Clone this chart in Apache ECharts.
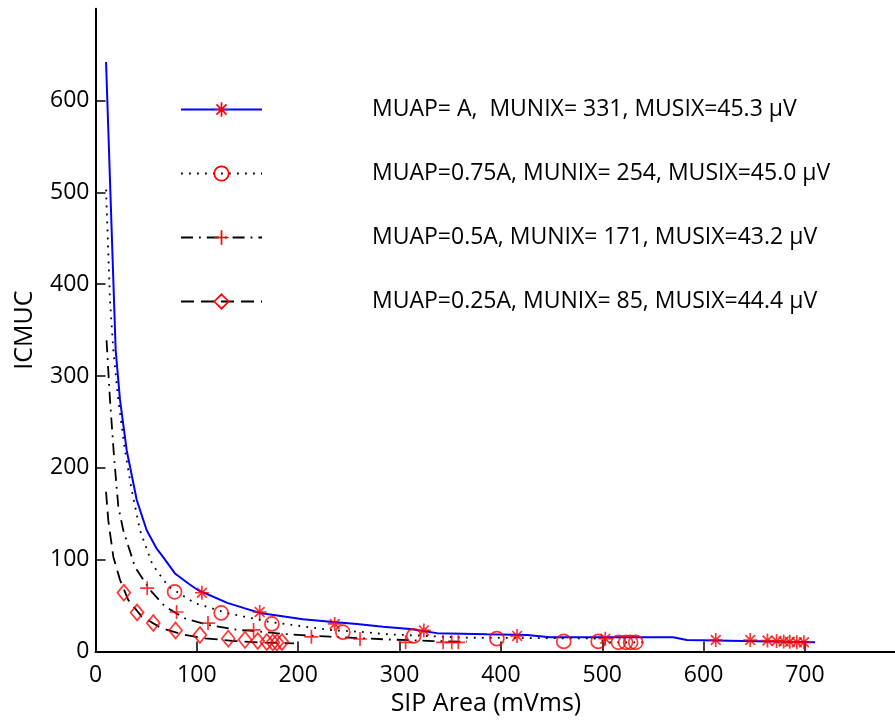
<!DOCTYPE html>
<html>
<head>
<meta charset="utf-8">
<title>ICMUC vs SIP Area</title>
<script src="https://cdn.jsdelivr.net/npm/echarts@6/dist/echarts.min.js"></script>
<style>
  html, body { margin: 0; padding: 0; background: #fff; }
  #chart { width: 895px; height: 725px; }
</style>
</head>
<body>
<div id="chart"></div>
<script>
// Series labels
const labelA   = 'MUAP= A,  MUNIX= 331, MUSIX=45.3 µV';
const label75  = 'MUAP=0.75A, MUNIX= 254, MUSIX=45.0 µV';
const label50  = 'MUAP=0.5A, MUNIX= 171, MUSIX=43.2 µV';
const label25  = 'MUAP=0.25A, MUNIX= 85, MUSIX=44.4 µV';

// Fitted ICMUC curves: [SIP area, ICMUC]
const curveA = [[10.4,642],[19.9,328],[24.2,274],[30.8,219],[40.7,165],[50.5,132],[60.4,112],[68.6,100],[78.4,85],[93,73],[101,67],[130,53],[147.5,47],[162.3,42],[204.7,35],[234.3,32],[258,30],[283.7,27],[310.3,24.5],[337,20],[386,18.7],[425.7,18],[448.4,15.5],[569.8,15.5],[583.6,12.5],[709.9,10]];
const curve75 = [[10.4,503],[14.3,383],[17.6,328],[22.5,274],[29.1,219],[35.7,176],[43.9,132],[56,95],[71.8,71],[98.2,52.5],[131,41.6],[170.2,32.5],[193.6,29],[231.4,23.4],[267.6,21],[283.7,19],[366.3,15],[465,14.4],[490.9,14.4],[507.7,10],[545,10]];
const curve50 = [[10.9,339],[14.3,274],[18.3,212],[22.5,158],[27.4,132],[39,92],[53.8,67],[68.6,49],[88.3,36],[111,29],[140.6,23.4],[152.4,22.7],[185.3,19.1],[218.3,16.9],[231.4,16.1],[284,13.3],[333,11.4],[366.6,10.7]];
const curve25 = [[10.4,174],[12.6,143],[17.6,103],[24.2,78],[32.4,56],[45.6,38],[65.3,25.3],[88.3,18],[108,14.4],[137.6,11.4],[167.2,9.6],[195.9,8.9]];

// Measured ICMUC points: [SIP area, ICMUC]
const pointsA = [[105,64],[162,43],[236,30],[324,23],[416,17],[503,14],[612,12.5],[646,12.5],[663,12],[672,11.5],[679,11],[685,10.5],[692,10],[699,10]];
const points75 = [[78,65],[124,42],[174,30],[244,21],[314,17],[396,14],[462,11],[496,11],[516,10],[523,10],[528,10],[533,10]];
const points50 = [[51,69],[80,43],[111,31],[156,23.5],[213,16],[261,13.6],[306,10],[343,10],[351.5,10],[358,10]];
const points25 = [[28,64],[41,42.5],[57,31],[79,23],[103,18],[131,14],[147.5,12.7],[160,11.4],[169,10.3],[175,9.8],[179,9.8],[184,10.3]];

// Tick labels
const xTicks = [0, 100, 200, 300, 400, 500, 600, 700];
const yTicks = [0, 100, 200, 300, 400, 500, 600];

const FONT = '"Open Sans", "DejaVu Sans", sans-serif';
const RED = '#ff0000';

// Marker shapes
const asteriskPath = 'path://M5,0L5,10M0,5L10,5M1.5,1.5L8.5,8.5M1.5,8.5L8.5,1.5';
const plusPath = 'path://M5,0L5,10M0,5L10,5';

const markerStyle = { color: 'rgba(0,0,0,0)', borderColor: RED, borderWidth: 1.7 };

const groups = [
  { name: labelA,  curve: curveA,  points: pointsA,  symbol: asteriskPath, size: 14,
    line: { color: '#0000ff', width: 2, type: 'solid' } },
  { name: label75, curve: curve75, points: points75, symbol: 'circle', size: 14,
    line: { color: '#000000', width: 1.8, type: [1.8, 6.2] } },
  { name: label50, curve: curve50, points: points50, symbol: plusPath, size: 14,
    line: { color: '#000000', width: 1.8, type: [12, 6, 1.8, 6] } },
  { name: label25, curve: curve25, points: points25, symbol: 'diamond', size: [13, 16],
    line: { color: '#000000', width: 1.8, type: [13, 7] } }
];

const series = [];
groups.forEach(g => {
  series.push({
    type: 'line',
    name: g.name,
    data: g.curve,
    showSymbol: false,
    symbol: g.symbol,
    symbolSize: g.size,
    itemStyle: markerStyle,
    lineStyle: g.line,
    z: 2,
    silent: true
  });
});
groups.forEach(g => {
  series.push({
    type: 'scatter',
    data: g.points,
    symbol: g.symbol,
    symbolSize: g.size,
    itemStyle: markerStyle,
    z: 3,
    silent: true
  });
});

const axisCommon = {
  axisLine: { show: true, onZero: false, lineStyle: { color: '#000', width: 2 } },
  splitLine: { show: false },
  nameTextStyle: { color: '#000', fontFamily: FONT, fontSize: 25 }
};

const option = {
  animation: false,
  backgroundColor: '#fff',
  grid: {
    left: 95.5, right: -11.3, top: 8.7, bottom: 73.5,
    containLabel: false, outerBoundsMode: 'none'
  },
  legend: {
    orient: 'vertical',
    left: 180,
    top: 98,
    padding: 0,
    itemWidth: 81,
    itemHeight: 18,
    itemGap: 41,
    selectedMode: false,
    textStyle: { color: '#000', fontFamily: FONT, fontSize: 23, padding: [0, 0, 0, 105] },
    data: groups.map(g => ({
      name: g.name,
      itemStyle: markerStyle,
      lineStyle: g.line
    }))
  },
  xAxis: Object.assign({}, axisCommon, {
    type: 'value',
    min: 0, max: 800,
    name: 'SIP Area (mVms)',
    nameLocation: 'middle',
    nameGap: 38,
    nameTextStyle: { color: '#000', fontFamily: FONT, fontSize: 25, padding: [0, 30, 0, 0] },
    axisTick: { show: true, inside: true, length: 10, customValues: xTicks, lineStyle: { color: '#000', width: 1.5 } },
    axisLabel: { customValues: xTicks, color: '#000', fontFamily: FONT, fontSize: 23, margin: 12 }
  }),
  yAxis: Object.assign({}, axisCommon, {
    type: 'value',
    min: 0, max: 700,
    name: 'ICMUC',
    nameLocation: 'middle',
    nameGap: 58,
    axisTick: { show: true, inside: true, length: 10, customValues: yTicks, lineStyle: { color: '#000', width: 1.5 } },
    axisLabel: { customValues: yTicks, color: '#000', fontFamily: FONT, fontSize: 23, margin: 6 }
  }),
  series: series
};

const chart = echarts.init(document.getElementById('chart'), null, { renderer: 'canvas' });
chart.setOption(option);
</script>
</body>
</html>
